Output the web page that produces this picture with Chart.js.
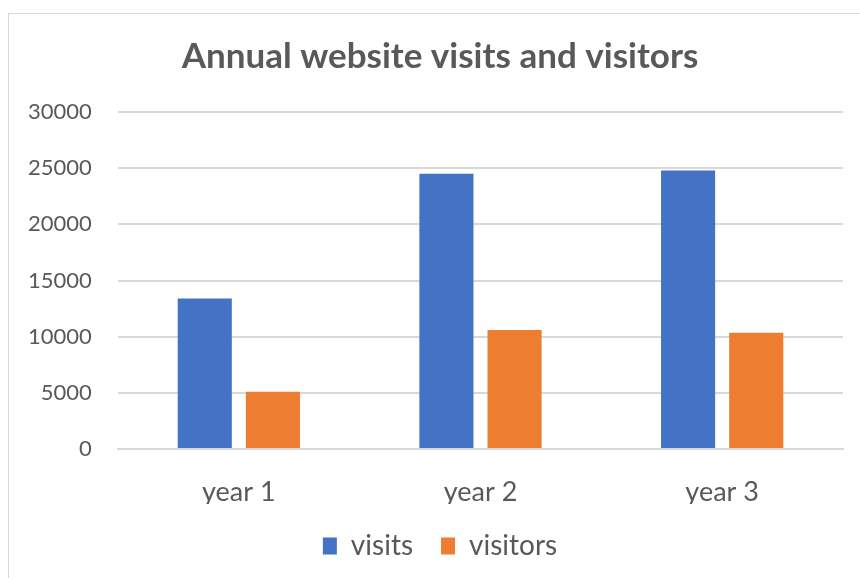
<!DOCTYPE html>
<html>
<head>
<meta charset="utf-8">
<script src="https://cdn.jsdelivr.net/npm/chart.js@4/dist/chart.umd.min.js"></script>
<style>
  html, body { margin: 0; padding: 0; background: #fff; }
  #wrap { position: relative; width: 860px; height: 578px; }
  #frame { position: absolute; left: 8px; top: 13px; width: 900px; height: 600px; border: 1px solid #d9d9d9; }
  #c { position: absolute; left: 0; top: 0; }
</style>
</head>
<body>
<div id="wrap">
  <div id="frame"></div>
  <canvas id="c" width="860" height="578"></canvas>
</div>
<script>
var years = ['year 1', 'year 2', 'year 3'];
var visits = [13400, 24500, 24800];
var visitors = [5100, 10600, 10350];
var yTicks = [0, 5000, 10000, 15000, 20000, 25000, 30000];

var textColor = '#595959';
var font = 'Lato, "Liberation Sans", sans-serif';

new Chart(document.getElementById('c'), {
  type: 'bar',
  data: {
    labels: years,
    datasets: [{
      label: 'visits',
      data: visits,
      backgroundColor: '#4472C4',
      categoryPercentage: 0.564,
      barPercentage: 0.794
    }, {
      label: 'visitors',
      data: visitors,
      backgroundColor: '#ED7D31',
      categoryPercentage: 0.564,
      barPercentage: 0.794
    }]
  },
  options: {
    responsive: false,
    animation: false,
    layout: { padding: { top: 30, left: 37, right: 17, bottom: 8 } },
    plugins: {
      title: {
        display: true,
        text: 'Annual website visits and visitors',
        color: textColor,
        font: { family: font, size: 35, weight: 'bold' },
        padding: { top: 6, bottom: 34 }
      },
      legend: {
        position: 'bottom',
        labels: {
          color: textColor,
          font: { family: font, size: 28 },
          boxWidth: 14,
          boxHeight: 17,
          padding: 28
        }
      },
      tooltip: { enabled: false }
    },
    scales: {
      x: {
        grid: { display: false },
        border: { color: '#d9d9d9', width: 2 },
        ticks: { color: textColor, font: { family: font, size: 27 }, padding: 19 },
        afterFit: function (axis) { axis.height = 55; }
      },
      y: {
        min: 0,
        max: 30000,
        afterBuildTicks: function (axis) {
          axis.ticks = yTicks.map(function (v) { return { value: v }; });
        },
        afterFit: function (axis) { axis.width = 81; },
        grid: { color: '#d9d9d9', lineWidth: 2, drawTicks: false },
        border: { display: false },
        ticks: {
          color: textColor,
          font: { family: font, size: 22 },
          mirror: true,
          crossAlign: 'far',
          padding: -90,
          callback: function (v) { return String(v); }
        }
      }
    }
  }
});
</script>
</body>
</html>
